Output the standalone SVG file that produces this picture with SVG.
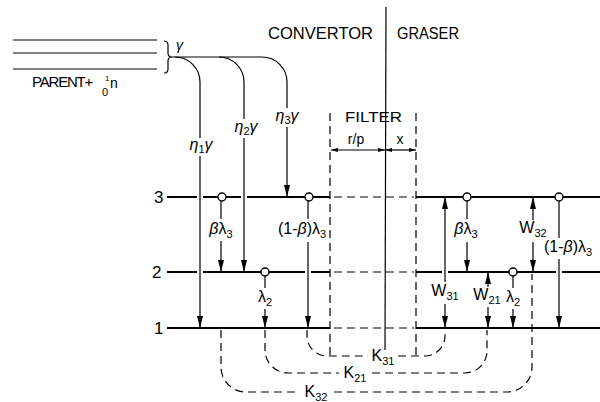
<svg xmlns="http://www.w3.org/2000/svg" width="600" height="402" viewBox="0 0 600 402">
<defs>
<marker id="ah" markerUnits="userSpaceOnUse" viewBox="0 0 12 6" refX="12" refY="3" markerWidth="12" markerHeight="6" orient="auto"><path d="M0,0 L12,3 L0,6 z" fill="#000"/></marker>
<marker id="dh" markerUnits="userSpaceOnUse" viewBox="0 0 7 4" refX="7" refY="2" markerWidth="7" markerHeight="4" orient="auto-start-reverse"><path d="M0,0 L7,2 L0,4 z" fill="#000"/></marker>
</defs>
<style>
text{font-family:"Liberation Sans",Arial,sans-serif;fill:#000}
.t{font-size:16px}
.lb{font-size:16px;text-anchor:middle}
.num{font-size:17px}
.sub{font-size:11px}
.gk{font-style:italic}
.lv{stroke:#000;stroke-width:2;fill:none}
.ln{stroke:#000;stroke-width:1.2;fill:none}
.ar{stroke:#000;stroke-width:1.2;fill:none;marker-end:url(#ah)}
.dl{stroke:#000;stroke-width:1.2;fill:none;stroke-dasharray:8 5}
.nd{fill:#fff;stroke:#000;stroke-width:1.4}
</style>
<rect width="600" height="402" fill="#fff"/>

<g id="parent">
<path class="ln" d="M13,40 H157 M13,53 H157 M13,69 H157"/>
<path class="ln" d="M164,41 Q168,41 168,45 V53 Q168,57 172,57 Q168,57 168,61 V69 Q168,73 164,73"/>
<text x="176" y="50" font-size="14" class="gk">γ</text>
<text x="32" y="87" font-size="15"><tspan letter-spacing="-1.2">PARENT+</tspan><tspan x="105" y="81" font-size="8">1</tspan><tspan x="102" y="96" font-size="11">0</tspan><tspan x="110" y="88" font-size="14">n</tspan></text>
</g>

<g id="headers">
<text x="268" y="39" class="t" textLength="105" lengthAdjust="spacingAndGlyphs">CONVERTOR</text>
<text x="397" y="39" class="t" textLength="62" lengthAdjust="spacingAndGlyphs">GRASER</text>
<path class="ln" d="M386,7 L385,350"/>
</g>

<g id="filter">
<path class="dl" d="M330,113 V356 M416,113 V356" stroke-dasharray="10 5"/>
<text x="345" y="122" font-size="15" textLength="57" lengthAdjust="spacingAndGlyphs">FILTER</text>
<text x="356" y="144" font-size="14" text-anchor="middle">r/p</text>
<text x="400" y="144" font-size="14" text-anchor="middle">x</text>
<path class="ln" d="M331,150 H385" marker-start="url(#dh)" marker-end="url(#dh)"/>
<path class="ln" d="M385,150 H416" marker-start="url(#dh)" marker-end="url(#dh)"/>
</g>

<g id="levels">
<text x="154" y="203" class="num">3</text>
<text x="152" y="278" class="num">2</text>
<text x="154" y="334" class="num">1</text>
<path class="lv" d="M167,197 H197 M203,197 H241 M247,197 H330"/>
<path class="lv" d="M167,272 H197 M203,272 H305 M311,272 H330"/>
<path class="lv" d="M167,328 H330"/>
<path class="dl" d="M334,197 H414 M334,272 H414 M334,328 H414"/>
<path class="lv" d="M416,197 H600"/>
<path class="lv" d="M416,272 H442 M448,272 H556 M562,272 H600"/>
<path class="lv" d="M416,328 H600"/>
</g>

<g id="connectors">
<path class="ln" d="M172,57 H262 A25,25 0 0 1 287,82 V108"/>
<path class="ln" d="M175,57 A25,25 0 0 1 200,82 V138"/>
<path class="ln" d="M219,57 A25,25 0 0 1 244,82 V119"/>
<path class="ar" d="M200,156 V328"/>
<path class="ar" d="M244,138 V272"/>
<path class="ar" d="M287,127 V197"/>
<path class="ln" d="M221,201 V219"/><path class="ar" d="M221,241 V272"/>
<path class="ln" d="M308,201 V219"/><path class="ar" d="M308,242 V328"/>
<path class="ln" d="M265,276 V288"/><path class="ar" d="M265,309 V328"/>
<path class="ln" d="M467,201 V219"/><path class="ar" d="M467,242 V272"/>
<path class="ar" d="M533,220 V197"/><path class="ar" d="M533,242 V272"/>
<path class="ln" d="M559,201 V238"/><path class="ar" d="M559,259 V328"/>
<path class="ar" d="M445,282 V197"/><path class="ar" d="M445,304 V328"/>
<path class="ar" d="M488,287 V272"/><path class="ar" d="M488,307 V328"/>
<path class="ln" d="M513,276 V288"/><path class="ar" d="M513,309 V328"/>
<path class="dl" d="M307,330 V336 A20,20 0 0 0 327,356 H368 M398,356 H425 A20,20 0 0 0 445,336 V330"/>
<path class="dl" d="M265,330 V350 A23,23 0 0 0 288,373 H339 M372,373 H465 A22,22 0 0 0 487,351 V330"/>
<path class="dl" d="M221,330 V367 A25,25 0 0 0 246,392 H299 M334,392 H507 A25,25 0 0 0 532,367 V274"/>
</g>

<g id="nodes">
<circle id="c3a" class="nd" cx="222" cy="197" r="4"/>
<circle id="c3b" class="nd" cx="309" cy="197" r="4"/>
<circle id="c2a" class="nd" cx="265" cy="272" r="4"/>
<circle id="g3a" class="nd" cx="467" cy="197" r="4"/>
<circle id="g3b" class="nd" cx="559" cy="197" r="4"/>
<circle id="g2a" class="nd" cx="513" cy="272" r="4"/>
</g>

<g id="labels">
<text x="201" y="150" class="lb"><tspan class="gk">η</tspan><tspan class="sub" dy="3">1</tspan><tspan class="gk" dy="-3">γ</tspan></text>
<text x="246" y="132" class="lb"><tspan class="gk">η</tspan><tspan class="sub" dy="3">2</tspan><tspan class="gk" dy="-3">γ</tspan></text>
<text x="287" y="121" class="lb"><tspan class="gk">η</tspan><tspan class="sub" dy="3">3</tspan><tspan class="gk" dy="-3">γ</tspan></text>
<text x="221" y="234" class="lb"><tspan class="gk">β</tspan>λ<tspan class="sub" dy="4">3</tspan></text>
<text x="302" y="234" class="lb">(1-<tspan class="gk">β</tspan>)λ<tspan class="sub" dy="4">3</tspan></text>
<text x="265" y="302" class="lb">λ<tspan class="sub" dy="4">2</tspan></text>
<text x="466" y="234" class="lb"><tspan class="gk">β</tspan>λ<tspan class="sub" dy="4">3</tspan></text>
<text x="533" y="233" class="lb">W<tspan class="sub" dy="4">32</tspan></text>
<text x="568" y="252" class="lb">(1-<tspan class="gk">β</tspan>)λ<tspan class="sub" dy="4">3</tspan></text>
<text x="445" y="296" class="lb">W<tspan class="sub" dy="4">31</tspan></text>
<text x="487" y="300" class="lb">W<tspan class="sub" dy="4">21</tspan></text>
<text x="513" y="302" class="lb">λ<tspan class="sub" dy="4">2</tspan></text>
<text x="383" y="361" class="lb">K<tspan class="sub" dy="4">31</tspan></text>
<text x="355" y="378" class="lb">K<tspan class="sub" dy="4">21</tspan></text>
<text x="316" y="397" class="lb">K<tspan class="sub" dy="4">32</tspan></text>
</g>
</svg>
